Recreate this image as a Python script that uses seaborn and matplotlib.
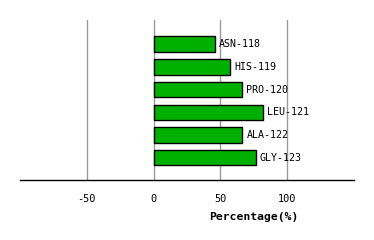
import matplotlib
matplotlib.use("Agg")
import matplotlib.pyplot as plt
import seaborn as sns
import pandas as pd

residues = ["ASN-118", "HIS-119", "PRO-120", "LEU-121", "ALA-122", "GLY-123"]
percentages = [46, 57.5, 66, 82, 66.5, 76.5]
xticks = [-50, 0, 50, 100]

df = pd.DataFrame({"residue": residues, "pct": percentages})

sns.set_style("white")
plt.rcParams["font.family"] = ["DejaVu Sans Mono"]
plt.rcParams["text.color"] = "black"
plt.rcParams["axes.labelcolor"] = "black"
plt.rcParams["xtick.color"] = "black"

fig = plt.figure(figsize=(3.74, 2.4), dpi=100)
ax = fig.add_axes([20/374, 60/240, 334/374, 160/240])

sns.barplot(data=df, x="pct", y="residue", orient="h", color="#00b000",
            saturation=1, edgecolor="black", linewidth=1, width=0.68, ax=ax, zorder=3)

for i, (r, v) in enumerate(zip(residues, percentages)):
    ax.text(v + 3, i, r, va="center", ha="left", fontsize=7.2, color="black", zorder=4)

ax.set_xlim(-100, 150)
ax.set_ylim(5.98, -1.06)
ax.set_xticks(xticks)
ax.set_xticklabels([str(t) for t in xticks], fontsize=7.4, color="black")
ax.set_yticks([])
ax.set_ylabel("")
ax.set_xlabel("Percentage(%)", fontsize=8.2, fontweight="bold", color="black")
ax.xaxis.set_label_coords(0.70, -0.20)
ax.tick_params(axis="x", length=0, pad=10)
for x in xticks:
    ax.axvline(x, color="#999999", linewidth=1, zorder=1)
for s in ["top", "right", "left"]:
    ax.spines[s].set_visible(False)
ax.spines["bottom"].set_color("black")
ax.spines["bottom"].set_linewidth(1)

fig.savefig("out.png", dpi=100)
